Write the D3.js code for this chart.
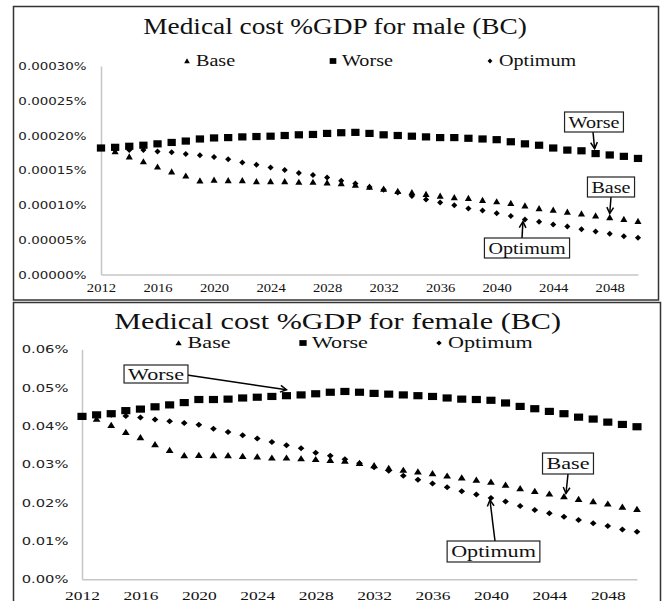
<!DOCTYPE html>
<html>
<head>
<meta charset="utf-8">
<script src="https://cdn.jsdelivr.net/npm/d3@7"></script>
<style>
  body { margin: 0; background: #fff; }
  svg { display: block; }
</style>
</head>
<body>
<script>
// categories
const years = [2012, 2013, 2014, 2015, 2016, 2017, 2018, 2019, 2020, 2021, 2022, 2023, 2024,
  2025, 2026, 2027, 2028, 2029, 2030, 2031, 2032, 2033, 2034, 2035, 2036, 2037, 2038,
  2039, 2040, 2041, 2042, 2043, 2044, 2045, 2046, 2047, 2048, 2049, 2050];
const yearTicks = [2012, 2016, 2020, 2024, 2028, 2032, 2036, 2040, 2044, 2048];
const seriesNames = ["Base", "Worse", "Optimum"];

// male, values in % of GDP
const maleTicks = [0, 0.00005, 0.0001, 0.00015, 0.0002, 0.00025, 0.0003];
const maleBase = [0.000182, 0.000177, 0.0001696, 0.0001625, 0.000155, 0.000148, 0.000142, 0.000135,
  0.000136, 0.0001355, 0.0001355, 0.000134, 0.000134, 0.000134, 0.000133, 0.000133, 0.000132,
  0.000131, 0.000129, 0.000126, 0.000123, 0.00012, 0.000118, 0.0001155, 0.000113, 0.000111,
  0.0001097, 0.000107, 0.000105, 0.0001025, 0.000099, 0.000095, 0.000093, 0.00009, 0.0000875,
  0.0000845, 0.000082, 0.0000795, 0.0000767];
const maleWorse = [0.000182, 0.000183, 0.0001845, 0.000186, 0.000188, 0.00019, 0.000192, 0.000195,
  0.0001965, 0.000197, 0.000198, 0.0001985, 0.000199, 0.0002, 0.000201, 0.0002015, 0.000203,
  0.000204, 0.0002045, 0.000203, 0.000201, 0.0002, 0.000199, 0.000198, 0.000197, 0.000197,
  0.000196, 0.000195, 0.000194, 0.000191, 0.000188, 0.000186, 0.000182, 0.000179, 0.000178,
  0.000174, 0.000172, 0.00017, 0.000167];
const maleOptimum = [0.000182, 0.000179, 0.000179, 0.000179, 0.000177, 0.000176, 0.0001735, 0.0001715,
  0.000169, 0.000166, 0.000161, 0.000158, 0.000154, 0.0001505, 0.000146, 0.000143, 0.0001395,
  0.000135, 0.000131, 0.000126, 0.000122, 0.000118, 0.000113, 0.000108, 0.0001035, 0.0000997,
  0.000095, 0.000092, 0.000088, 0.000084, 0.000079, 0.000076, 0.000072, 0.000069, 0.000065,
  0.000062, 0.0000585, 0.000055, 0.000053];

// female, values in % of GDP
const femaleTicks = [0, 0.01, 0.02, 0.03, 0.04, 0.05, 0.06];
const femaleBase = [0.0425, 0.0418, 0.0402, 0.0384, 0.037, 0.0352, 0.0337, 0.0323, 0.0324, 0.0323,
  0.0323, 0.0321, 0.032, 0.0317, 0.0317, 0.0315, 0.0313, 0.0311, 0.0309, 0.0303, 0.0297, 0.029,
  0.0285, 0.0281, 0.0276, 0.027, 0.0265, 0.0259, 0.0254, 0.0246, 0.0237, 0.023, 0.0223, 0.0216,
  0.0209, 0.0203, 0.0197, 0.0189, 0.0183];
const femaleWorse = [0.0425, 0.0429, 0.0432, 0.044, 0.0444, 0.045, 0.0455, 0.0461, 0.0469, 0.0469,
  0.047, 0.0473, 0.0475, 0.0477, 0.0479, 0.0481, 0.0484, 0.0488, 0.049, 0.0488, 0.0485, 0.0483,
  0.0481, 0.0479, 0.0477, 0.0473, 0.047, 0.0469, 0.0467, 0.046, 0.0451, 0.0445, 0.0438, 0.0432,
  0.0423, 0.0418, 0.041, 0.0404, 0.0398];
const femaleOptimum = [0.0425, 0.0429, 0.0429, 0.0426, 0.0422, 0.0417, 0.0412, 0.0408, 0.0403, 0.0393,
  0.0384, 0.0376, 0.0367, 0.0358, 0.035, 0.0342, 0.033, 0.0322, 0.0313, 0.0303, 0.0292, 0.0283,
  0.027, 0.026, 0.025, 0.024, 0.023, 0.0221, 0.0212, 0.0203, 0.0191, 0.0181, 0.0172, 0.0163,
  0.0155, 0.0146, 0.0139, 0.013, 0.0124];

const SERIF = "'Liberation Serif', 'Times New Roman', serif";
const SANS = "'DejaVu Sans', Verdana, sans-serif";

// the source picture is stretched sideways, sx undoes that for text and markers
const panels = [
  {
    title: "Medical cost %GDP for male (BC)",
    ticks: maleTicks, series: [maleBase, maleWorse, maleOptimum],
    fmt: d => d.toFixed(5) + "%",
    sx: 1.22, frame: [13.5, 6.5, 645, 293.5],
    xr: [101, 638], yr: [274.5, 66],
    titleAt: [335, 34], titleSize: 22.4,
    legendY: 61, legendX: [187, 333, 490],
    xPad: 9, xFont: 12, yPad: 14.5,
    notes: [
      { s: 1, year: 2047, box: [594, 122], h: 20, from: [593, 132], tip: [-1, -5] },
      { s: 0, year: 2048, box: [611, 187], h: 20, from: [611, 197], tip: [0, -4] },
      { s: 2, year: 2042, box: [527, 248], h: 20, from: [522, 238], tip: [-2, 2] }
    ]
  },
  {
    title: "Medical cost %GDP for female (BC)",
    ticks: femaleTicks, series: [femaleBase, femaleWorse, femaleOptimum],
    fmt: d => d.toFixed(2) + "%",
    sx: 1.34, frame: [13.5, 302.5, 647, 305],
    xr: [82, 637], yr: [579.3, 349.3],
    titleAt: [337.6, 328.5], titleSize: 22.5,
    legendY: 343, legendX: [178.6, 303, 439],
    xPad: 11, xFont: 13, yPad: 13.5,
    notes: [
      { s: 1, year: 2026, box: [156, 374], h: 18, from: [187, 375], tip: [0, -6] },
      { s: 0, year: 2045, box: [568, 463.5], h: 21, from: [568, 474], tip: [2, -3] },
      { s: 2, year: 2040, box: [493.5, 551.5], h: 21, from: [495, 541], tip: [-1, 2] }
    ]
  }
];

// marker shapes: triangle, square, diamond
const markerPaths = [
  "M0,-3.4L2.9,2.8L-2.9,2.8Z",
  "M-3.4,-3.6h6.8v7.2h-6.8Z",
  "M0,-3L2.5,0L0,3L-2.5,0Z"
];

const svg = d3.select("body").append("svg")
  .attr("width", 666)
  .attr("height", 601);

svg.append("rect").attr("width", 666).attr("height", 601).attr("fill", "#fff");

function drawPanel(p) {
  const sx = p.sx;
  const g = svg.append("g");

  g.append("rect")
    .attr("x", p.frame[0]).attr("y", p.frame[1])
    .attr("width", p.frame[2]).attr("height", p.frame[3])
    .attr("fill", "#fff").attr("stroke", "#333").attr("stroke-width", 1.5);

  const x = d3.scaleLinear().domain([years[0], years[years.length - 1]]).range(p.xr);
  const y = d3.scaleLinear().domain([0, p.ticks[p.ticks.length - 1]]).range(p.yr);

  // title
  g.append("text")
    .attr("transform", `translate(${p.titleAt[0]},${p.titleAt[1]}) scale(${sx},1)`)
    .attr("text-anchor", "middle")
    .attr("font-family", SERIF).attr("font-size", p.titleSize).attr("fill", "#111")
    .text(p.title);

  // legend
  seriesNames.forEach((name, i) => {
    const lx = p.legendX[i];
    g.append("path")
      .attr("d", markerPaths[i])
      .attr("transform", `translate(${lx},${p.legendY}) scale(${sx * 0.8},0.8)`)
      .attr("fill", "#000");
    g.append("text")
      .attr("transform", `translate(${lx + 9},${p.legendY + 5.3}) scale(${sx},1)`)
      .attr("font-family", SERIF).attr("font-size", 16.5).attr("fill", "#111")
      .text(name);
  });

  // axes
  const xAxis = g.append("g")
    .attr("transform", `translate(0,${p.yr[0]})`)
    .call(d3.axisBottom(x).tickValues(yearTicks).tickFormat(d3.format("d"))
      .tickSize(0).tickSizeOuter(0).tickPadding(p.xPad));
  xAxis.select(".domain").attr("stroke", "#c6c6c6").attr("stroke-width", 1.5);
  xAxis.selectAll("text")
    .attr("font-family", SERIF).attr("font-size", p.xFont).attr("fill", "#111")
    .attr("transform", `scale(${sx},1)`);

  const yAxis = g.append("g")
    .attr("transform", `translate(${p.xr[0]},0)`)
    .call(d3.axisLeft(y).tickValues(p.ticks).tickFormat(p.fmt)
      .tickSize(0).tickSizeOuter(0).tickPadding(p.yPad / sx));
  yAxis.select(".domain").attr("stroke", "#c6c6c6").attr("stroke-width", 1.5);
  yAxis.selectAll("text")
    .attr("font-family", SANS).attr("font-size", 11).attr("fill", "#222")
    .attr("transform", `scale(${sx},1)`);

  // markers
  p.series.forEach((vals, i) => {
    g.append("g").selectAll("path")
      .data(years.map((yr, k) => ({ yr, v: vals[k] })))
      .join("path")
      .attr("d", markerPaths[i])
      .attr("transform", d => `translate(${x(d.yr)},${y(d.v)}) scale(${sx},1)`)
      .attr("fill", "#000");
  });

  // annotations
  p.notes.forEach(n => {
    const v = p.series[n.s][years.indexOf(n.year)];
    const tx = x(n.year) + n.tip[0];
    const ty = y(v) + n.tip[1];
    const a = Math.atan2(ty - n.from[1], tx - n.from[0]);
    const L = 7, w = 0.5;
    g.append("line")
      .attr("x1", n.from[0]).attr("y1", n.from[1])
      .attr("x2", tx).attr("y2", ty)
      .attr("stroke", "#000").attr("stroke-width", 1.5);
    g.append("path")
      .attr("d", `M${tx - L * Math.cos(a - w)},${ty - L * Math.sin(a - w)}L${tx},${ty}L${tx - L * Math.cos(a + w)},${ty - L * Math.sin(a + w)}`)
      .attr("fill", "none").attr("stroke", "#000").attr("stroke-width", 1.5);

    const box = g.append("rect");
    const t = g.append("text")
      .attr("transform", `translate(${n.box[0]},${n.box[1] + 5.5}) scale(${sx},1)`)
      .attr("text-anchor", "middle")
      .attr("font-family", SERIF).attr("font-size", 16.5).attr("fill", "#111")
      .text(seriesNames[n.s]);
    const tw = t.node().getComputedTextLength() * sx + 8;
    box.attr("x", n.box[0] - tw / 2).attr("y", n.box[1] - n.h / 2)
      .attr("width", tw).attr("height", n.h)
      .attr("fill", "#fff").attr("stroke", "#222").attr("stroke-width", 1.2);
  });
}

panels.forEach(drawPanel);
</script>
</body>
</html>
